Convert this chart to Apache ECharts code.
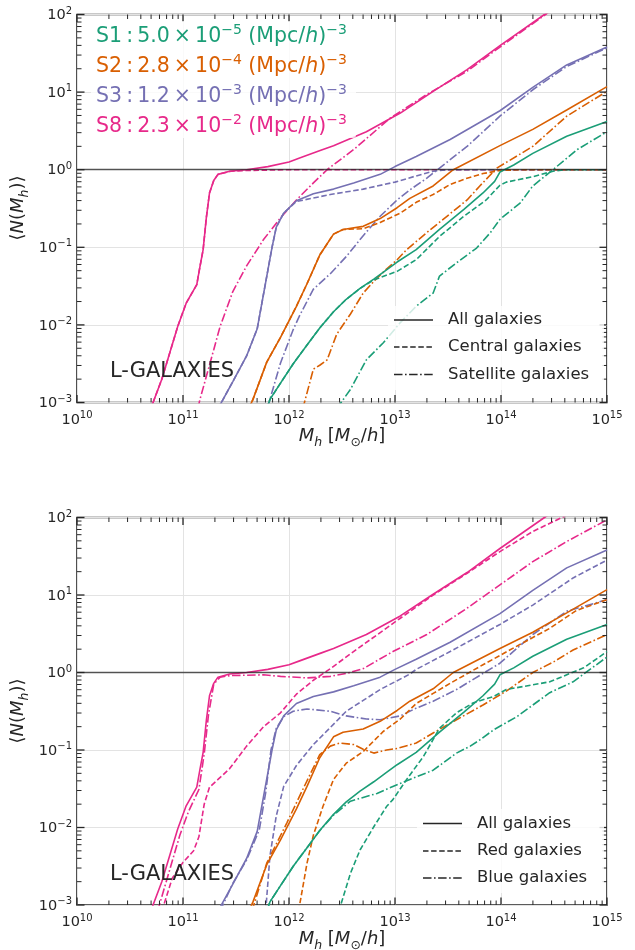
<!DOCTYPE html>
<html>
<head>
<meta charset="utf-8">
<script src="https://cdn.jsdelivr.net/npm/echarts@6/dist/echarts.min.js"></script>
<style>
  html, body { margin: 0; padding: 0; background: #fff; }
  #chart { width: 635px; height: 950px; }
</style>
</head>
<body>
<div id="chart"></div>
<script>
// Halo occupation <N(M_h)> of L-GALAXIES samples.
// Every curve is a list of [log10 M_h, log10 <N>] points.

// ---- all galaxies (shared by both panels) ----
const allS1 = [[11.79,-3.08],[11.82,-2.96],[11.92,-2.75],[12.04,-2.50],[12.17,-2.26],[12.29,-2.04],[12.42,-1.83],[12.54,-1.67],[12.67,-1.53],[12.80,-1.41],[12.92,-1.29],[13.02,-1.19],[13.20,-1.03],[13.42,-0.77],[13.65,-0.51],[13.83,-0.30],[13.94,-0.15],[13.99,-0.03],[14.12,0.06],[14.30,0.21],[14.62,0.43],[15.00,0.62]];
const allS2 = [[11.62,-3.08],[11.66,-2.96],[11.79,-2.48],[11.92,-2.16],[12.07,-1.76],[12.17,-1.47],[12.29,-1.10],[12.42,-0.83],[12.51,-0.77],[12.70,-0.73],[12.86,-0.63],[13.02,-0.49],[13.14,-0.37],[13.36,-0.21],[13.55,0.00],[13.99,0.31],[14.30,0.52],[14.62,0.77],[15.00,1.07]];
const allS3 = [[11.33,-3.08],[11.47,-2.73],[11.60,-2.40],[11.70,-2.05],[11.76,-1.60],[11.80,-1.30],[11.84,-1.00],[11.88,-0.74],[11.95,-0.56],[12.07,-0.40],[12.23,-0.31],[12.42,-0.25],[12.61,-0.17],[12.86,-0.06],[13.00,0.04],[13.20,0.17],[13.52,0.39],[13.99,0.76],[14.30,1.06],[14.62,1.35],[15.00,1.58]];
const allS8 = [[10.69,-3.10],[10.80,-2.70],[10.95,-2.02],[11.03,-1.72],[11.13,-1.48],[11.16,-1.25],[11.19,-1.03],[11.22,-0.62],[11.25,-0.30],[11.29,-0.14],[11.33,-0.06],[11.44,-0.02],[11.60,0.00],[11.80,0.04],[12.00,0.10],[12.10,0.15],[12.30,0.25],[12.42,0.31],[12.73,0.49],[13.05,0.73],[13.36,1.01],[13.68,1.29],[13.99,1.60],[14.40,1.99],[14.60,2.18]];

// ---- centrals / satellites ----
const cenS1 = [[11.79,-3.08],[11.82,-2.96],[11.92,-2.75],[12.04,-2.50],[12.17,-2.26],[12.29,-2.04],[12.42,-1.83],[12.54,-1.67],[12.67,-1.53],[12.80,-1.42],[13.02,-1.31],[13.20,-1.16],[13.42,-0.86],[13.65,-0.60],[13.86,-0.39],[13.99,-0.20],[14.05,-0.16],[14.30,-0.09],[14.49,-0.02],[14.60,0.00],[15.00,0.00]];
const satS1 = [[12.45,-3.08],[12.58,-2.83],[12.73,-2.45],[12.89,-2.23],[13.05,-1.97],[13.20,-1.76],[13.36,-1.59],[13.42,-1.37],[13.58,-1.20],[13.77,-1.01],[13.90,-0.81],[13.99,-0.64],[14.18,-0.43],[14.30,-0.21],[14.49,0.00],[14.72,0.26],[15.00,0.49]];
const cenS2 = [[11.62,-3.08],[11.66,-2.96],[11.79,-2.48],[11.92,-2.16],[12.07,-1.76],[12.17,-1.47],[12.29,-1.10],[12.42,-0.83],[12.51,-0.77],[12.70,-0.76],[12.86,-0.68],[13.05,-0.56],[13.20,-0.42],[13.36,-0.32],[13.52,-0.19],[13.68,-0.11],[13.83,-0.05],[13.99,-0.01],[14.20,0.00],[15.00,0.00]];
const satS2 = [[12.13,-3.08],[12.23,-2.57],[12.29,-2.52],[12.36,-2.45],[12.45,-2.12],[12.58,-1.86],[12.70,-1.59],[12.80,-1.44],[12.92,-1.28],[13.02,-1.16],[13.11,-1.03],[13.30,-0.81],[13.49,-0.60],[13.68,-0.39],[13.80,-0.21],[13.96,0.02],[14.30,0.30],[14.62,0.69],[15.00,1.01]];
const cenS3 = [[11.33,-3.08],[11.47,-2.73],[11.60,-2.40],[11.70,-2.05],[11.76,-1.60],[11.80,-1.30],[11.84,-1.00],[11.88,-0.74],[11.95,-0.56],[12.07,-0.41],[12.39,-0.32],[12.70,-0.25],[13.00,-0.16],[13.20,-0.08],[13.36,-0.02],[13.50,0.00],[15.00,0.00]];
const satS3 = [[11.80,-3.08],[11.82,-2.96],[11.92,-2.49],[12.04,-2.06],[12.10,-1.88],[12.23,-1.54],[12.39,-1.34],[12.54,-1.12],[12.70,-0.85],[12.86,-0.60],[13.02,-0.39],[13.14,-0.26],[13.30,-0.11],[13.40,0.00],[13.68,0.30],[13.99,0.69],[14.30,1.03],[14.62,1.33],[15.00,1.57]];
const cenS8 = [[10.69,-3.10],[10.80,-2.70],[10.95,-2.02],[11.03,-1.72],[11.13,-1.48],[11.16,-1.25],[11.19,-1.03],[11.22,-0.62],[11.25,-0.30],[11.29,-0.14],[11.33,-0.06],[11.45,-0.02],[11.60,-0.01],[12.00,0.00],[15.00,0.00]];
const satS8 = [[11.14,-3.08],[11.16,-2.96],[11.29,-2.32],[11.35,-2.02],[11.47,-1.57],[11.60,-1.24],[11.76,-0.90],[11.92,-0.62],[12.07,-0.39],[12.23,-0.17],[12.36,0.00],[12.61,0.26],[12.73,0.40],[12.95,0.66],[13.30,0.97],[13.68,1.27],[13.99,1.58],[14.40,1.98],[14.60,2.18]];

// ---- red / blue ----
const redS1 = [[12.47,-3.08],[12.58,-2.59],[12.67,-2.29],[12.80,-1.99],[12.92,-1.73],[12.98,-1.64],[13.11,-1.38],[13.27,-1.08],[13.42,-0.72],[13.58,-0.52],[13.74,-0.39],[13.93,-0.31],[14.05,-0.22],[14.46,-0.12],[14.78,0.06],[15.00,0.27]];
const blueS1 = [[11.79,-3.08],[11.82,-2.96],[11.92,-2.75],[12.04,-2.50],[12.17,-2.26],[12.29,-2.04],[12.42,-1.84],[12.58,-1.66],[12.83,-1.56],[12.98,-1.47],[13.14,-1.38],[13.36,-1.26],[13.58,-1.04],[13.71,-0.95],[13.80,-0.87],[13.93,-0.74],[14.15,-0.57],[14.46,-0.26],[14.68,-0.12],[15.00,0.20]];
const redS2 = [[12.09,-3.08],[12.17,-2.46],[12.23,-2.10],[12.32,-1.73],[12.42,-1.38],[12.54,-1.17],[12.70,-1.02],[12.89,-0.76],[13.05,-0.60],[13.20,-0.40],[13.36,-0.27],[13.52,-0.14],[13.83,0.10],[14.15,0.34],[14.46,0.57],[14.71,0.80],[15.00,0.94]];
const blueS2 = [[11.65,-3.08],[11.79,-2.46],[11.98,-1.94],[12.13,-1.51],[12.29,-1.06],[12.39,-0.95],[12.48,-0.91],[12.61,-0.93],[12.70,-0.99],[12.80,-1.04],[12.92,-1.00],[13.02,-0.98],[13.20,-0.91],[13.36,-0.78],[13.58,-0.61],[13.83,-0.42],[14.05,-0.24],[14.30,0.00],[14.50,0.14],[14.68,0.29],[15.00,0.49]];
const redS3 = [[11.78,-3.08],[11.82,-2.37],[11.88,-1.85],[11.95,-1.47],[12.07,-1.20],[12.23,-0.93],[12.39,-0.71],[12.54,-0.50],[12.70,-0.36],[12.86,-0.22],[13.14,-0.02],[13.20,0.04],[13.52,0.27],[13.99,0.62],[14.30,0.87],[14.68,1.22],[15.00,1.45]];
const blueS3 = [[11.35,-3.08],[11.47,-2.72],[11.60,-2.42],[11.72,-2.03],[11.78,-1.55],[11.83,-1.00],[11.88,-0.72],[11.95,-0.57],[12.04,-0.50],[12.17,-0.47],[12.39,-0.50],[12.54,-0.56],[12.73,-0.60],[12.86,-0.61],[13.05,-0.56],[13.20,-0.46],[13.36,-0.37],[13.58,-0.22],[13.99,0.12],[14.30,0.49],[14.62,0.79],[15.00,0.94]];
const redS8 = [[10.80,-3.08],[10.90,-2.65],[11.00,-2.45],[11.10,-2.30],[11.15,-2.12],[11.20,-1.70],[11.25,-1.48],[11.33,-1.38],[11.44,-1.24],[11.60,-0.95],[11.76,-0.70],[11.92,-0.52],[12.07,-0.28],[12.23,-0.10],[12.39,0.05],[12.64,0.30],[13.05,0.70],[13.36,1.00],[13.68,1.28],[13.99,1.56],[14.30,1.82],[14.59,2.01],[14.75,2.15]];
const blueS8 = [[10.76,-3.08],[10.97,-2.10],[11.05,-1.80],[11.15,-1.51],[11.20,-1.05],[11.24,-0.55],[11.29,-0.15],[11.35,-0.06],[11.44,-0.04],[11.76,-0.03],[11.92,-0.05],[12.17,-0.07],[12.39,-0.05],[12.55,-0.01],[12.70,0.05],[12.98,0.27],[13.30,0.49],[13.68,0.83],[13.99,1.13],[14.30,1.43],[14.62,1.69],[15.00,1.97]];

// sample labels and number densities
const samples = ['S1', 'S2', 'S3', 'S8'];
const densMantissa = ['5.0', '2.8', '1.2', '2.3'];
const densExponent = ['\u22125', '\u22124', '\u22123', '\u22122'];
const sampleColors = ['#1b9e77', '#d95f02', '#7570b3', '#e7298a'];

// axis ranges (decades)
const massDecades = [10, 11, 12, 13, 14, 15];
const occDecades = [-3, -2, -1, 0, 1, 2];

const topLines = [allS1, allS2, allS3, allS8];
const topCen = [cenS1, cenS2, cenS3, cenS8];
const topSat = [satS1, satS2, satS3, satS8];
const botRed = [redS1, redS2, redS3, redS8];
const botBlue = [blueS1, blueS2, blueS3, blueS8];

const toPoints = arr => arr.map(p => [Math.pow(10, p[0]), Math.pow(10, p[1])]);

const INK = '#262626';
const FONT = 'DejaVu Sans';
const DASH = [5.5, 2.6];
const DASHDOT = [8.5, 2.5, 1.6, 2.5];

const xMin = Math.pow(10, massDecades[0]), xMax = Math.pow(10, massDecades[massDecades.length - 1]);
const yMin = Math.pow(10, occDecades[0]), yMax = Math.pow(10, occDecades[occDecades.length - 1]);

// tick marks on all four sides: [x, y, isYTick, isMajor]
const tickData = [];
for (let e = massDecades[0]; e <= massDecades[massDecades.length - 1]; e++) {
  tickData.push([Math.pow(10, e), 1, 0, 1]);
  if (e < massDecades[massDecades.length - 1])
    for (let k = 2; k <= 9; k++) tickData.push([k * Math.pow(10, e), 1, 0, 0]);
}
for (let e = occDecades[0]; e <= occDecades[occDecades.length - 1]; e++) {
  tickData.push([1e12, Math.pow(10, e), 1, 1]);
  if (e < occDecades[occDecades.length - 1])
    for (let k = 2; k <= 9; k++) tickData.push([1e12, k * Math.pow(10, e), 1, 0]);
}

const supFmt = v => {
  const e = Math.round(Math.log10(v));
  return '{b|10}{s|' + String(e).replace('-', '\u2212') + '}';
};
const tickRich = {
  b: { fontSize: 14.5, fontFamily: FONT, color: INK, verticalAlign: 'bottom', lineHeight: 17 },
  s: { fontSize: 10, fontFamily: FONT, color: INK, verticalAlign: 'bottom', lineHeight: 12, padding: [0, 0, 7, 0] }
};

const grids = [
  { left: 77, top: 14.5, width: 530, height: 388 },
  { left: 77, top: 517.5, width: 530, height: 387.5 }
].map(g => Object.assign(g, { show: true, borderColor: INK, borderWidth: 1.6, backgroundColor: 'transparent' }));

const xAxes = grids.map((g, gi) => ({
  type: 'log', logBase: 10, gridIndex: gi, min: xMin, max: xMax,
  axisLine: { show: false }, axisTick: { show: false },
  axisLabel: { show: true, formatter: supFmt, rich: tickRich, margin: 8, showMinLabel: true, showMaxLabel: true },
  splitLine: { show: true, lineStyle: { color: '#e3e3e3', width: 1 } },
  minorTick: { show: false }, minorSplitLine: { show: false }
}));
const yAxes = grids.map((g, gi) => ({
  type: 'log', logBase: 10, gridIndex: gi, min: yMin, max: yMax,
  axisLine: { show: false }, axisTick: { show: false },
  axisLabel: { show: true, formatter: supFmt, rich: tickRich, margin: 5, showMinLabel: true, showMaxLabel: true },
  splitLine: { show: true, lineStyle: { color: '#e3e3e3', width: 1 } },
  minorTick: { show: false }, minorSplitLine: { show: false }
}));

const series = [];
function addLine(gi, pts, color, dash, name) {
  series.push({
    type: 'line', name: name, xAxisIndex: gi, yAxisIndex: gi,
    data: toPoints(pts), showSymbol: false, symbol: 'none', clip: true,
    lineStyle: { color: color, width: 1.6, type: dash || 'solid' },
    z: 3
  });
}
function addUnity(gi) {
  series.push({
    type: 'line', xAxisIndex: gi, yAxisIndex: gi, data: [], z: 4,
    markLine: {
      silent: true, symbol: ['none', 'none'], label: { show: false },
      lineStyle: { color: '#222', width: 1.3, type: 'solid', opacity: 0.75 },
      data: [{ yAxis: 1 }]
    }
  });
}
function addTicks(gi) {
  series.push({
    type: 'custom', xAxisIndex: gi, yAxisIndex: gi, coordinateSystem: 'cartesian2d',
    silent: true, clip: false, z: 6, encode: { x: 0, y: 1 },
    data: tickData,
    renderItem: function (params, api) {
      const isY = api.value(2), major = api.value(3);
      const len = major ? 7.5 : 4.5;
      const cs = params.coordSys;
      const style = { stroke: INK, lineWidth: major ? 1.3 : 1 };
      const p = api.coord([api.value(0), api.value(1)]);
      let a, b;
      if (!isY) {
        a = { x1: p[0], y1: cs.y + cs.height, x2: p[0], y2: cs.y + cs.height - len };
        b = { x1: p[0], y1: cs.y, x2: p[0], y2: cs.y + len };
      } else {
        a = { x1: cs.x, y1: p[1], x2: cs.x + len, y2: p[1] };
        b = { x1: cs.x + cs.width, y1: p[1], x2: cs.x + cs.width - len, y2: p[1] };
      }
      return { type: 'group', children: [
        { type: 'line', shape: a, style: style },
        { type: 'line', shape: b, style: style }
      ] };
    }
  });
}

[3, 2, 1, 0].forEach(i => {
  addLine(0, topLines[i], sampleColors[i], null, samples[i] + ' all');
  addLine(0, topCen[i], sampleColors[i], DASH, samples[i] + ' central');
  addLine(0, topSat[i], sampleColors[i], DASHDOT, samples[i] + ' satellite');
});
addUnity(0);
addTicks(0);
[3, 2, 1, 0].forEach(i => {
  addLine(1, topLines[i], sampleColors[i], null, samples[i] + ' all');
  addLine(1, botRed[i], sampleColors[i], DASH, samples[i] + ' red');
  addLine(1, botBlue[i], sampleColors[i], DASHDOT, samples[i] + ' blue');
});
addUnity(1);
addTicks(1);

// ---- legends and labels ----
const graphics = [];
function legendBox(x, y, w, h) {
  graphics.push({
    type: 'rect', silent: true, z: 50,
    shape: { x: x, y: y, width: w, height: h, r: 3 },
    style: { fill: 'rgba(255,255,255,0.8)', stroke: null }
  });
}
legendBox(91, 21, 265, 117);
legendBox(388, 306, 216, 84);
legendBox(417, 809, 187, 84);

const legRich = {
  n: { fontSize: 20.5, fontFamily: FONT, verticalAlign: 'bottom', lineHeight: 24 },
  s: { fontSize: 14, fontFamily: FONT, verticalAlign: 'bottom', lineHeight: 15, padding: [0, 0, 10, 0] },
  i: { fontSize: 20.5, fontFamily: FONT, fontStyle: 'italic', verticalAlign: 'bottom', lineHeight: 24 }
};
samples.forEach((s, i) => {
  graphics.push({
    type: 'text', left: 96, top: 23 + i * 30, silent: true, z: 51,
    style: {
      text: '{n|' + s + '\u2009:\u2009' + densMantissa[i] + '\u2009\u00d7\u200910}{s|' + densExponent[i] + '}{n| (Mpc/}{i|h}{n|)}{s|\u22123}',
      fill: sampleColors[i], rich: legRich
    }
  });
});

function styleKey(x0, y, dash, label) {
  graphics.push({
    type: 'line', silent: true, z: 51,
    shape: { x1: x0, y1: y, x2: x0 + 39, y2: y },
    style: { stroke: INK, lineWidth: 1.6, lineDash: dash }
  });
  graphics.push({
    type: 'text', silent: true, z: 51, x: x0 + 54, y: y,
    style: { text: label, fill: INK, font: '16.5px "DejaVu Sans"', verticalAlign: 'middle', textVerticalAlign: 'middle' }
  });
}
styleKey(394, 320, null, 'All galaxies');
styleKey(394, 347, DASH, 'Central galaxies');
styleKey(394, 374.5, DASHDOT, 'Satellite galaxies');
styleKey(423, 823.5, null, 'All galaxies');
styleKey(423, 851, DASH, 'Red galaxies');
styleKey(423, 878, DASHDOT, 'Blue galaxies');

[372, 875].forEach(y => {
  graphics.push({
    type: 'text', silent: true, z: 51, x: 110, y: y,
    style: { text: 'L-GALAXIES', fill: INK, font: '21px "DejaVu Sans"', verticalAlign: 'middle', textVerticalAlign: 'middle' }
  });
});

const axRich = {
  i: { fontSize: 18, fontFamily: FONT, fontStyle: 'italic', verticalAlign: 'bottom', lineHeight: 21, padding: [0, 0, 4, 0] },
  n: { fontSize: 18, fontFamily: FONT, verticalAlign: 'bottom', lineHeight: 21, padding: [0, 0, 4, 0] },
  b: { fontSize: 12.5, fontFamily: FONT, fontStyle: 'italic', verticalAlign: 'bottom', lineHeight: 14 },
  u: { fontSize: 12.5, fontFamily: FONT, verticalAlign: 'bottom', lineHeight: 14 }
};
[439, 942].forEach(y => {
  graphics.push({
    type: 'text', silent: true, x: 342, y: y,
    style: {
      text: '{i|M}{b|h}{n| [}{i|M}{u|\u2299}{n|/}{i|h}{n|]}',
      fill: INK, rich: axRich, align: 'center', verticalAlign: 'middle'
    }
  });
});
[208, 711].forEach(y => {
  graphics.push({
    type: 'text', silent: true, x: 21, y: y, rotation: Math.PI / 2,
    style: {
      text: '{n|\u27e8}{i|N}{n|(}{i|M}{b|h}{n|)\u27e9}',
      fill: INK, rich: axRich, align: 'center', verticalAlign: 'middle'
    }
  });
});

const chart = echarts.init(document.getElementById('chart'), null, { renderer: 'canvas' });
chart.setOption({
  animation: false,
  backgroundColor: '#ffffff',
  textStyle: { fontFamily: FONT },
  grid: grids,
  xAxis: xAxes,
  yAxis: yAxes,
  series: series,
  graphic: graphics
});
</script>
</body>
</html>
